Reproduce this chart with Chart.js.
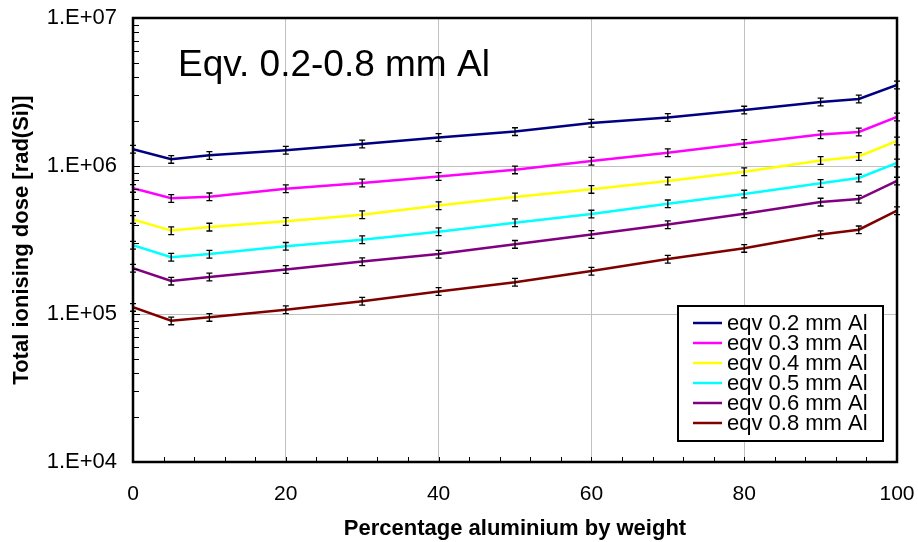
<!DOCTYPE html>
<html>
<head>
<meta charset="utf-8">
<title>Total ionising dose vs aluminium content</title>
<script src="https://cdn.jsdelivr.net/npm/chart.js@4.4.1/dist/chart.umd.min.js"></script>
<style>
  html, body { margin: 0; padding: 0; background: #fff; }
  #wrap { width: 918px; height: 542px; }
</style>
</head>
<body>
<div id="wrap"><canvas id="doseChart" width="918" height="542"></canvas></div>
<script>
// --- DATA ---
// Percentage aluminium by weight (x positions of every series)
const alPercent = [0, 5, 10, 20, 30, 40, 50, 60, 70, 80, 90, 95, 100];

// Total ionising dose [rad(Si)] per shield thickness
const dose02 = [1.30e6, 1.11e6, 1.18e6, 1.28e6, 1.41e6, 1.56e6, 1.71e6, 1.95e6, 2.13e6, 2.39e6, 2.71e6, 2.84e6, 3.53e6];
const dose03 = [7.07e5, 6.05e5, 6.20e5, 7.03e5, 7.68e5, 8.50e5, 9.43e5, 1.08e6, 1.23e6, 1.42e6, 1.63e6, 1.70e6, 2.15e6];
const dose04 = [4.36e5, 3.66e5, 3.87e5, 4.23e5, 4.69e5, 5.40e5, 6.18e5, 6.96e5, 7.92e5, 9.16e5, 1.09e6, 1.16e6, 1.48e6];
const dose05 = [2.92e5, 2.42e5, 2.54e5, 2.87e5, 3.18e5, 3.60e5, 4.14e5, 4.74e5, 5.56e5, 6.47e5, 7.64e5, 8.30e5, 1.05e6];
const dose06 = [2.04e5, 1.67e5, 1.78e5, 2.00e5, 2.26e5, 2.54e5, 2.96e5, 3.45e5, 4.02e5, 4.76e5, 5.71e5, 5.98e5, 7.92e5];
const dose08 = [1.11e5, 9.00e4, 9.50e4, 1.07e5, 1.22e5, 1.42e5, 1.64e5, 1.95e5, 2.35e5, 2.78e5, 3.44e5, 3.71e5, 4.99e5];

const seriesValues = [dose02, dose03, dose04, dose05, dose06, dose08];
const seriesNames = ['eqv 0.2 mm Al', 'eqv 0.3 mm Al', 'eqv 0.4 mm Al', 'eqv 0.5 mm Al', 'eqv 0.6 mm Al', 'eqv 0.8 mm Al'];
const seriesColors = ['#000080', '#FF00FF', '#FFFF00', '#00FFFF', '#800080', '#800000'];

// relative uncertainty shown as error bars on every point
const errFraction = 0.06;

// axis ticks
const xTicks = [0, 20, 40, 60, 80, 100];
const yTicks = [1e4, 1e5, 1e6, 1e7];

const chartLabel = 'Eqv. 0.2-0.8 mm Al';
const FONT = "'Liberation Sans', Arial, Helvetica, sans-serif";

// --- PLUGINS ---

// Black I-beam error bars on top of the lines
const errorBars = {
    id: 'errorBars',
    afterDatasetsDraw(chart) {
        const ctx = chart.ctx;
        const xs = chart.scales.x, ys = chart.scales.y;
        ctx.save();
        ctx.strokeStyle = '#000';
        ctx.lineWidth = 1.3;
        chart.data.datasets.forEach(ds => {
            ds.data.forEach(p => {
                const px = xs.getPixelForValue(p.x);
                const yHi = ys.getPixelForValue(p.y * (1 + errFraction));
                const yLo = ys.getPixelForValue(p.y * (1 - errFraction));
                ctx.beginPath();
                ctx.moveTo(px, yHi); ctx.lineTo(px, yLo);
                ctx.moveTo(px - 3, yHi); ctx.lineTo(px + 3, yHi);
                ctx.moveTo(px - 3, yLo); ctx.lineTo(px + 3, yLo);
                ctx.stroke();
            });
        });
        ctx.restore();
    }
};

// Frame, minor ticks, big label and the boxed legend
const decorations = {
    id: 'decorations',
    afterDraw(chart) {
        const ctx = chart.ctx;
        const ca = chart.chartArea;
        const xs = chart.scales.x, ys = chart.scales.y;
        ctx.save();

        // minor ticks along the bottom (every 4 %)
        ctx.strokeStyle = '#000';
        ctx.lineWidth = 1;
        ctx.beginPath();
        for (let v = 4; v < 100; v += 4) {
            const px = Math.round(xs.getPixelForValue(v)) + 0.5;
            ctx.moveTo(px, ca.bottom);
            ctx.lineTo(px, ca.bottom - 5);
        }
        // log minor ticks along the left side
        for (let dec = 1e4; dec < 1e7; dec *= 10) {
            for (let m = 1; m < 10; m++) {
                const py = Math.round(ys.getPixelForValue(dec * m)) + 0.5;
                ctx.moveTo(ca.left, py);
                ctx.lineTo(ca.left + (m === 1 ? 7 : 6), py);
            }
        }
        ctx.stroke();

        // plot frame
        ctx.lineWidth = 2.5;
        ctx.strokeRect(ca.left, ca.top, ca.right - ca.left, ca.bottom - ca.top);

        // label inside the plot
        ctx.fillStyle = '#000';
        ctx.font = '37px ' + FONT;
        ctx.textBaseline = 'alphabetic';
        ctx.textAlign = 'left';
        ctx.fillText(chartLabel, ca.left + 45, ca.top + 58);

        // legend box in the lower right corner
        const boxW = 205, boxH = 135, rowH = 20;
        const bx = ca.right - 14 - boxW;
        const by = ca.bottom - 21 - boxH;
        ctx.fillStyle = '#fff';
        ctx.fillRect(bx, by, boxW, boxH);
        ctx.lineWidth = 2;
        ctx.strokeStyle = '#000';
        ctx.strokeRect(bx, by, boxW, boxH);
        ctx.font = '22px ' + FONT;
        ctx.textBaseline = 'middle';
        chart.data.datasets.forEach((ds, i) => {
            const ry = by + 17 + i * rowH;
            ctx.strokeStyle = ds.borderColor;
            ctx.lineWidth = 2.5;
            ctx.beginPath();
            ctx.moveTo(bx + 15, ry);
            ctx.lineTo(bx + 44, ry);
            ctx.stroke();
            ctx.fillStyle = '#000';
            ctx.fillText(ds.label, bx + 49, ry + 1);
        });
        ctx.restore();
    }
};

// --- CHART ---
const datasets = seriesValues.map((vals, i) => ({
    label: seriesNames[i],
    data: vals.map((v, j) => ({ x: alPercent[j], y: v })),
    borderColor: seriesColors[i],
    backgroundColor: seriesColors[i],
    borderWidth: 2.5,
    pointRadius: 0,
    tension: 0,
    fill: false
}));

new Chart(document.getElementById('doseChart'), {
    type: 'line',
    data: { datasets },
    options: {
        responsive: false,
        animation: false,
        layout: { padding: { top: 18, right: 21, left: 0, bottom: 0 } },
        plugins: {
            legend: { display: false },
            tooltip: { enabled: false }
        },
        scales: {
            x: {
                type: 'linear',
                min: 0,
                max: 100,
                afterBuildTicks: s => { s.ticks = xTicks.map(v => ({ value: v })); },
                // fixed axis band; tick labels may hang over the edges
                afterFit: s => { s.height = 80; s.paddingLeft = 0; s.paddingRight = 0; },
                border: { display: false },
                grid: {
                    drawTicks: false,
                    lineWidth: 1,
                    color: c => (c.tick && (c.tick.value === 0 || c.tick.value === 100)) ? 'rgba(0,0,0,0)' : '#c0c0c0'
                },
                ticks: {
                    padding: 20,
                    color: '#000',
                    font: { family: FONT, size: 21 }
                },
                title: {
                    display: true,
                    text: 'Percentage aluminium by weight',
                    color: '#000',
                    font: { family: FONT, size: 22, weight: 'bold' },
                    padding: { top: 0, bottom: 0 }
                }
            },
            y: {
                type: 'logarithmic',
                min: 1e4,
                max: 1e7,
                afterBuildTicks: s => { s.ticks = yTicks.map(v => ({ value: v })); },
                afterFit: s => { s.width = 133; s.paddingTop = 0; s.paddingBottom = 0; },
                border: { display: false },
                grid: {
                    drawTicks: false,
                    lineWidth: 1,
                    color: c => (c.tick && (c.tick.value === 1e5 || c.tick.value === 1e6)) ? '#c0c0c0' : 'rgba(0,0,0,0)'
                },
                ticks: {
                    padding: 16,
                    color: '#000',
                    font: { family: FONT, size: 22 },
                    callback: v => '1.E+' + String(Math.round(Math.log10(v))).padStart(2, '0')
                },
                title: {
                    display: true,
                    text: 'Total ionising dose [rad(Si)]',
                    color: '#000',
                    font: { family: FONT, size: 22, weight: 'bold' },
                    padding: { top: 9, bottom: 0 }
                }
            }
        }
    },
    plugins: [errorBars, decorations]
});
</script>
</body>
</html>
